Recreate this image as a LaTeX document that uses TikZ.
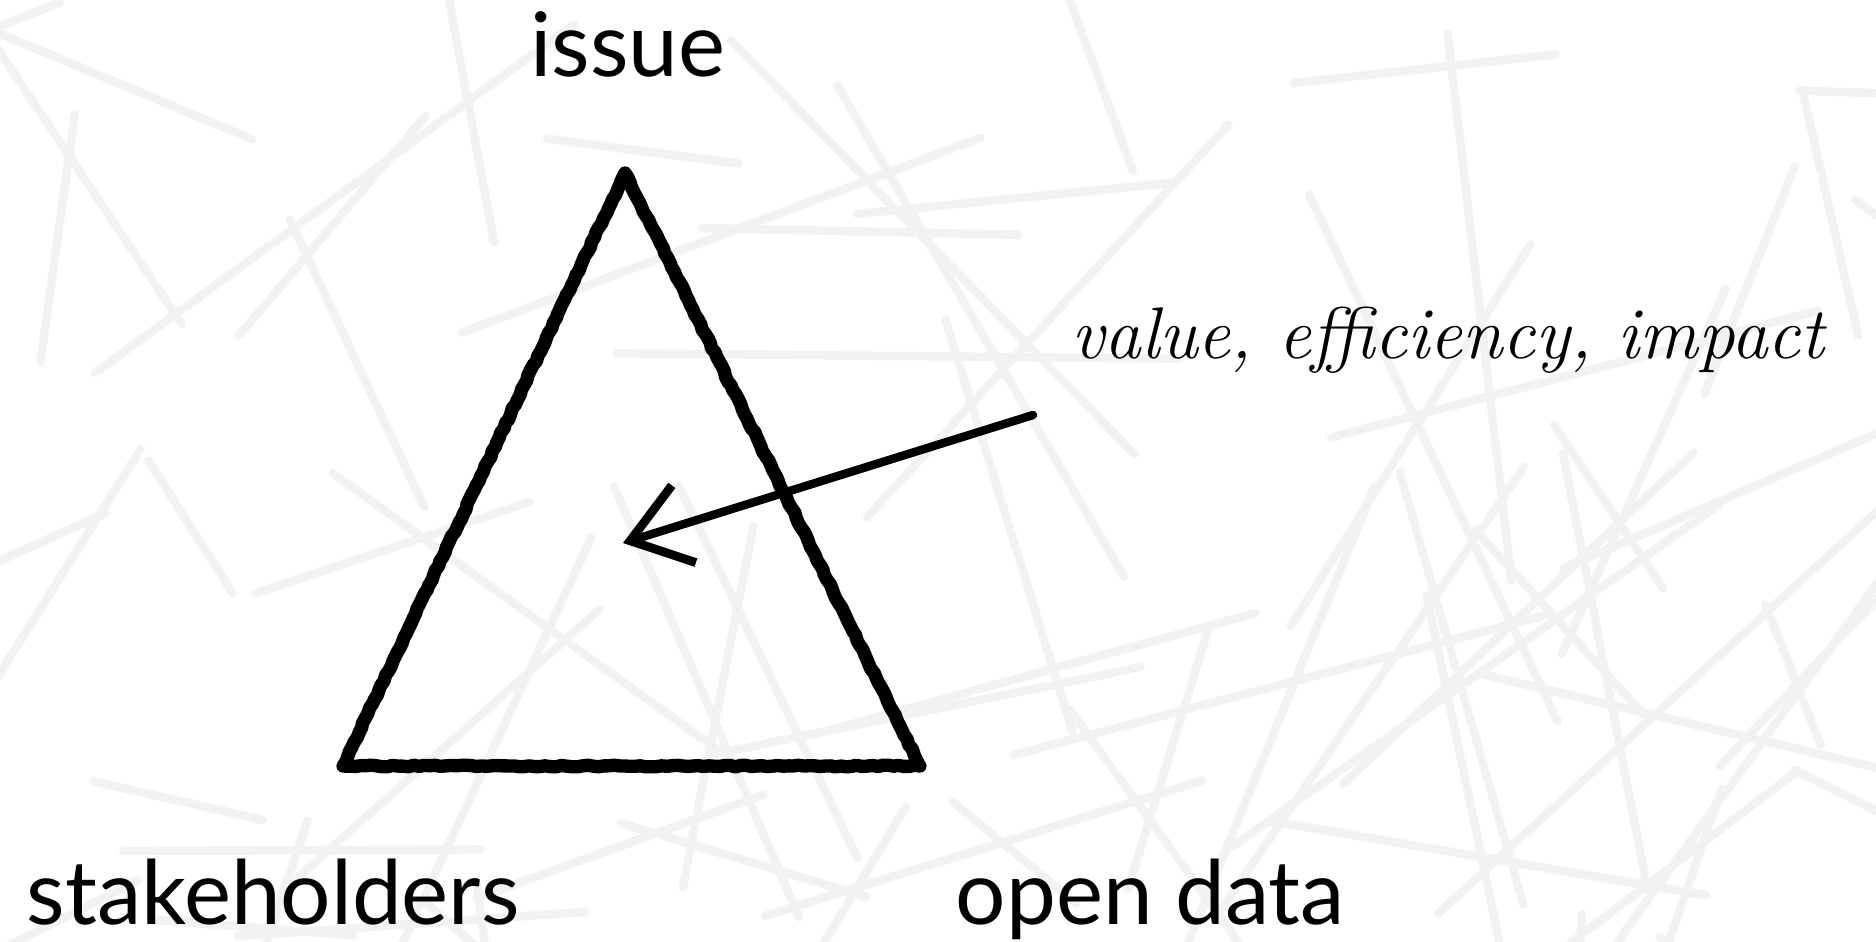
\documentclass[tikz,border=0pt]{standalone}
\usepackage{fontspec}
\newfontfamily\gillfont{Lato}
\usetikzlibrary{arrows.meta, decorations.pathmorphing}

\tikzset{
  sketch/.style={line width=3.8pt, line join=round, line cap=round,
    decorate, decoration={random steps, segment length=1.5pt, amplitude=0.25pt}},
  backline/.style={black!5, line width=2.4pt, line cap=round},
  pointer/.style={line width=2.4pt, line cap=round,
    -{Straight Barb[length=16pt, width=23pt, line width=2.5pt]}},
  corner/.style={font=\gillfont\fontsize{25.3}{30}\selectfont, inner sep=0pt},
  note/.style={font=\fontsize{20.8}{24}\selectfont\itshape, inner sep=0pt}
}

\begin{document}
\begin{tikzpicture}[x=0.01cm, y=-0.01cm]
    \useasboundingbox (0,0) rectangle (1876,941);
    \fill[white] (0,0) rectangle (1876,941);

    % faint scribbles in the background
    \begin{scope}
        \clip (0,0) rectangle (1876,941);
        \pgfmathsetseed{4711}
        \foreach \i in {1,...,80} {
            \pgfmathsetmacro\xa{rnd*1976-50}
            \pgfmathsetmacro\ya{rnd*1041-50}
            \pgfmathsetmacro\ang{rnd*180}
            \pgfmathsetmacro\len{150+rnd*450}
            \draw[backline] (\xa,\ya) -- ++(\ang:\len);
        }
    \end{scope}

    % triangle
    \coordinate (top) at (625,173);
    \coordinate (left) at (343,766);
    \coordinate (right) at (920,766);
    \draw[sketch] (top) -- (right) -- (left) -- cycle;
    \draw[sketch, line width=2pt] (top) -- (right) -- (left) -- cycle;

    % labels
    \node[corner, anchor=base] (issue) at (628,76) {issue};
    \node[corner, anchor=base west] (stake) at (26,924) {stakeholders};
    \node[corner, anchor=base west] (data) at (955,924) {open data};
    \node[note, anchor=base west] (value) at (1071,358) {value, efficiency, impact};

    % arrow into the triangle
    \coordinate (tail) at (1033,415);
    \coordinate (tip) at (623,543);
    \draw[pointer] (tail) -- (tip);
\end{tikzpicture}
\end{document}
